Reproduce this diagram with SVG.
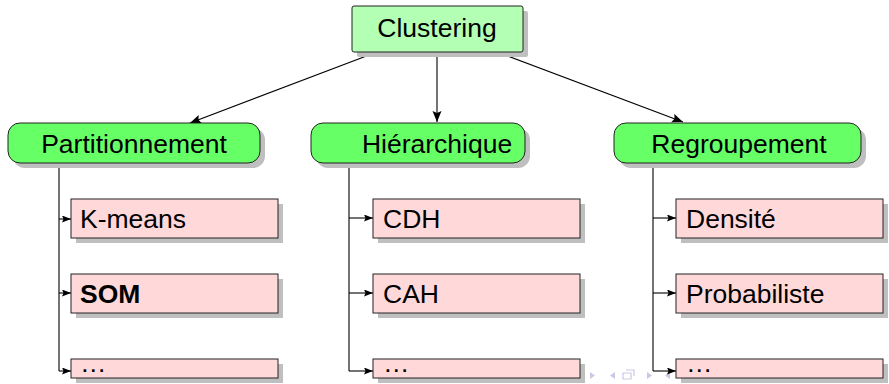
<svg xmlns="http://www.w3.org/2000/svg" width="889" height="384" viewBox="0 0 889 384">
<style>
text{font-family:"Liberation Sans",Arial,sans-serif;font-size:26.5px;fill:#000}
.c{text-anchor:middle}
.sh{fill:#bfbfbf}
.root{fill:#b3ffb3;stroke:#222;stroke-width:1}
.grp{fill:#66ff66;stroke:#222;stroke-width:1}
.leaf{fill:#ffd9d9;stroke:#222;stroke-width:1}
.ln{fill:none;stroke:#000;stroke-width:1.1}
.nav{fill:#c9c9e6}
</style>
<defs>
<marker id="ah" markerUnits="userSpaceOnUse" markerWidth="12" markerHeight="10" refX="11" refY="4.5" orient="auto">
<path d="M0,0 L11,4.5 L0,9 L2,4.5 z" fill="#000"/>
</marker>
<marker id="as" markerUnits="userSpaceOnUse" markerWidth="10" markerHeight="8" refX="9" refY="3.5" orient="auto">
<path d="M0,0 L9,3.5 L0,7 L1.5,3.5 z" fill="#000"/>
</marker>
</defs>
<g id="nav">
<path class="nav" d="M590,372 l5,3.5 l-5,3.5 z"/>
<path class="nav" d="M615,372 l-5,3.5 l5,3.5 z"/>
<path fill="none" stroke="#c9c9e6" stroke-width="1.2" d="M623,373 h8 v6 h-8 z M626,370 h8 v6"/>
<path class="nav" d="M647,372 l5,3.5 l-5,3.5 z"/>
<path class="nav" d="M670,372 l-5,3.5 l5,3.5 z"/>
</g>
<g id="connectors">
<path class="ln" d="M377,52 L190,123" marker-end="url(#ah)"/>
<path class="ln" d="M437,52 L437,122" marker-end="url(#ah)"/>
<path class="ln" d="M497,52 L683,122" marker-end="url(#ah)"/>
<path class="ln" d="M59,163 V371"/>
<path class="ln" d="M59,219 H71" marker-end="url(#as)"/>
<path class="ln" d="M59,293 H71" marker-end="url(#as)"/>
<path class="ln" d="M59,371 H71" marker-end="url(#as)"/>
<path class="ln" d="M349,163 V371"/>
<path class="ln" d="M349,218 H373" marker-end="url(#as)"/>
<path class="ln" d="M349,293 H373" marker-end="url(#as)"/>
<path class="ln" d="M349,371 H373" marker-end="url(#as)"/>
<path class="ln" d="M653,163 V371"/>
<path class="ln" d="M653,218 H676" marker-end="url(#as)"/>
<path class="ln" d="M653,293 H676" marker-end="url(#as)"/>
<path class="ln" d="M653,371 H676" marker-end="url(#as)"/>
</g>
<g id="clustering">
<rect class="sh" x="357" y="11" width="171" height="46" rx="2"/>
<rect class="root" x="352" y="6" width="171" height="46" rx="2"/>
<text class="c" x="437" y="37">Clustering</text>
</g>
<g id="partitionnement">
<rect class="sh" x="13" y="128" width="252" height="40" rx="12"/>
<rect class="grp" x="8" y="123" width="252" height="40" rx="12"/>
<text class="c" x="134" y="153">Partitionnement</text>
</g>
<g id="hierarchique">
<rect class="sh" x="316" y="128" width="214" height="40" rx="12"/>
<rect class="grp" x="311" y="123" width="214" height="40" rx="12"/>
<text class="c" x="437" y="153">Hiérarchique</text>
</g>
<g id="regroupement">
<rect class="sh" x="619" y="128" width="247" height="40" rx="12"/>
<rect class="grp" x="614" y="123" width="247" height="40" rx="12"/>
<text class="c" x="739" y="153">Regroupement</text>
</g>
<g id="kmeans">
<rect class="sh" x="76" y="204" width="207" height="39"/>
<rect class="leaf" x="71" y="199" width="207" height="39"/>
<text x="80" y="228">K-means</text>
</g>
<g id="som">
<rect class="sh" x="76" y="279" width="207" height="39"/>
<rect class="leaf" x="71" y="274" width="207" height="39"/>
<text x="80" y="303" font-weight="bold">SOM</text>
</g>
<g id="part-etc">
<rect class="sh" x="76" y="364" width="207" height="19"/>
<rect class="leaf" x="71" y="359" width="207" height="19"/>
<text x="80" y="372">…</text>
</g>
<g id="cdh">
<rect class="sh" x="378" y="204" width="207" height="39"/>
<rect class="leaf" x="373" y="199" width="207" height="39"/>
<text x="383" y="228">CDH</text>
</g>
<g id="cah">
<rect class="sh" x="378" y="279" width="207" height="39"/>
<rect class="leaf" x="373" y="274" width="207" height="39"/>
<text x="383" y="303">CAH</text>
</g>
<g id="hier-etc">
<rect class="sh" x="378" y="364" width="207" height="19"/>
<rect class="leaf" x="373" y="359" width="207" height="19"/>
<text x="383" y="372">…</text>
</g>
<g id="densite">
<rect class="sh" x="681" y="204" width="207" height="39"/>
<rect class="leaf" x="676" y="199" width="207" height="39"/>
<text x="686" y="228">Densité</text>
</g>
<g id="probabiliste">
<rect class="sh" x="681" y="279" width="207" height="39"/>
<rect class="leaf" x="676" y="274" width="207" height="39"/>
<text x="686" y="303">Probabiliste</text>
</g>
<g id="regr-etc">
<rect class="sh" x="681" y="364" width="207" height="19"/>
<rect class="leaf" x="676" y="359" width="207" height="19"/>
<text x="686" y="372">…</text>
</g>
</svg>
